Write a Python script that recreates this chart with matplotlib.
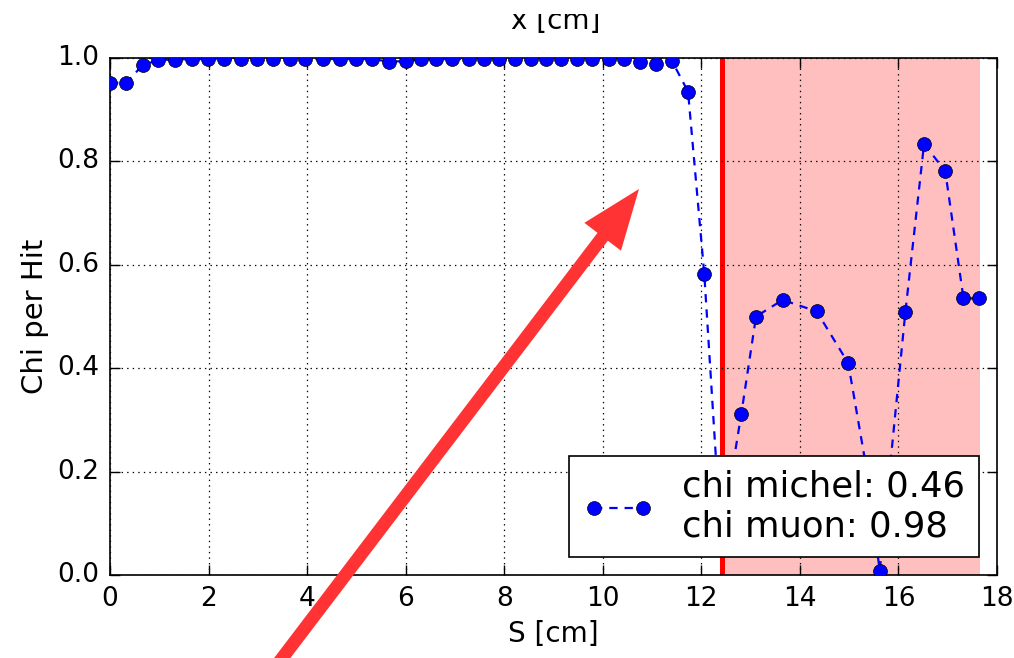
import matplotlib
matplotlib.use("Agg")
import matplotlib.pyplot as plt
from matplotlib.patches import FancyArrow, Rectangle

plt.style.use("classic")

# arc length along the track [cm] and chi per hit
s_cm = [0.00, 0.33, 0.66, 0.98, 1.32, 1.66, 1.98, 2.32, 2.65, 2.99, 3.31, 3.65,
        3.96, 4.33, 4.67, 5.00, 5.32, 5.67, 6.01, 6.31, 6.62, 6.94, 7.28, 7.58,
        7.90, 8.22, 8.54, 8.85, 9.16, 9.47, 9.78, 10.12, 10.44, 10.76, 11.07, 11.40,
        11.73, 12.06, 12.40, 12.81, 13.11, 13.65, 14.34, 14.98, 15.38, 15.62,
        16.14, 16.52, 16.95, 17.32, 17.63]
chi = [0.952, 0.952, 0.986, 0.996, 0.997, 0.998, 0.998, 0.998, 0.998, 0.998, 0.998, 0.998,
       0.998, 0.998, 0.998, 0.998, 0.998, 0.993, 0.994, 0.998, 0.998, 0.998, 0.998, 0.998,
       0.998, 0.998, 0.998, 0.998, 0.998, 0.998, 0.998, 0.998, 0.998, 0.993, 0.988, 0.995,
       0.935, 0.582, 0.070, 0.311, 0.500, 0.532, 0.510, 0.410, 0.190, 0.008,
       0.508, 0.834, 0.781, 0.535, 0.535]

split_s = 12.42          # michel / muon boundary
michel_end = 17.65
chi_michel = 0.46
chi_muon = 0.98
x_ticks = [0, 2, 4, 6, 8, 10, 12, 14, 16, 18]
y_ticks = [0.0, 0.2, 0.4, 0.6, 0.8, 1.0]

W, H, DPI = 1014, 658, 100
fig = plt.figure(figsize=(W / DPI, H / DPI), dpi=DPI, facecolor="white")
ax = fig.add_axes([110 / W, 1 - 575 / H, 887 / W, 517 / H])

ax.axvspan(split_s, michel_end, color="red", alpha=0.25, lw=0, zorder=1)
ax.plot(s_cm, chi, "o--", color="blue", lw=1.6, ms=10, mec="k", mew=0.5,
        dashes=(6, 5), zorder=3,
        label=f"chi michel: {chi_michel:.2f}\nchi muon: {chi_muon:.2f}")
ax.axvline(split_s, color="red", lw=3.6, zorder=2)

ax.set_xlim(0, 18)
ax.set_ylim(0, 1)
ax.set_xticks(x_ticks)
ax.set_yticks(y_ticks)
ax.set_yticklabels([f"{v:.1f}" for v in y_ticks])
ax.grid(True, color="k", linestyle=":", linewidth=0.9)
ax.tick_params(direction="in", length=7, width=1, labelsize=19, pad=8,
               top=True, right=True)
for sp in ax.spines.values():
    sp.set_linewidth(1.2)

ax.set_xlabel("S [cm]", fontsize=20, labelpad=6)
ax.set_ylabel("Chi per Hit", fontsize=21, labelpad=6)

leg = ax.legend(loc="lower right", fontsize=25.5, numpoints=2, fancybox=False,
                framealpha=1, borderpad=0.4, handletextpad=0.8, handlelength=2.0)
leg.get_frame().set_edgecolor("k")
leg.get_frame().set_linewidth(1.2)
leg.set_zorder(5)

# x label of the panel above, cut by the page edge
fig.text(556 / W, 1 - 29 / H, "x [cm]", fontsize=20, ha="center", va="baseline")
fig.patches.append(Rectangle((0, 1 - 14 / H), 1, 14 / H, transform=fig.transFigure,
                             facecolor="white", edgecolor="none", zorder=20))

# pointer arrow drawn in inches so the head keeps its shape
tail = (265.5 / DPI, -22 / DPI)
tip = (639 / DPI, (H - 189) / DPI)
arrow = FancyArrow(tail[0], tail[1], tip[0] - tail[0], tip[1] - tail[1],
                   width=0.13, head_width=0.46, head_length=0.6,
                   length_includes_head=True, color="#ff3333", lw=0,
                   transform=fig.dpi_scale_trans, zorder=30)
fig.patches.append(arrow)

fig.savefig("out.png", dpi=DPI, facecolor="white")
